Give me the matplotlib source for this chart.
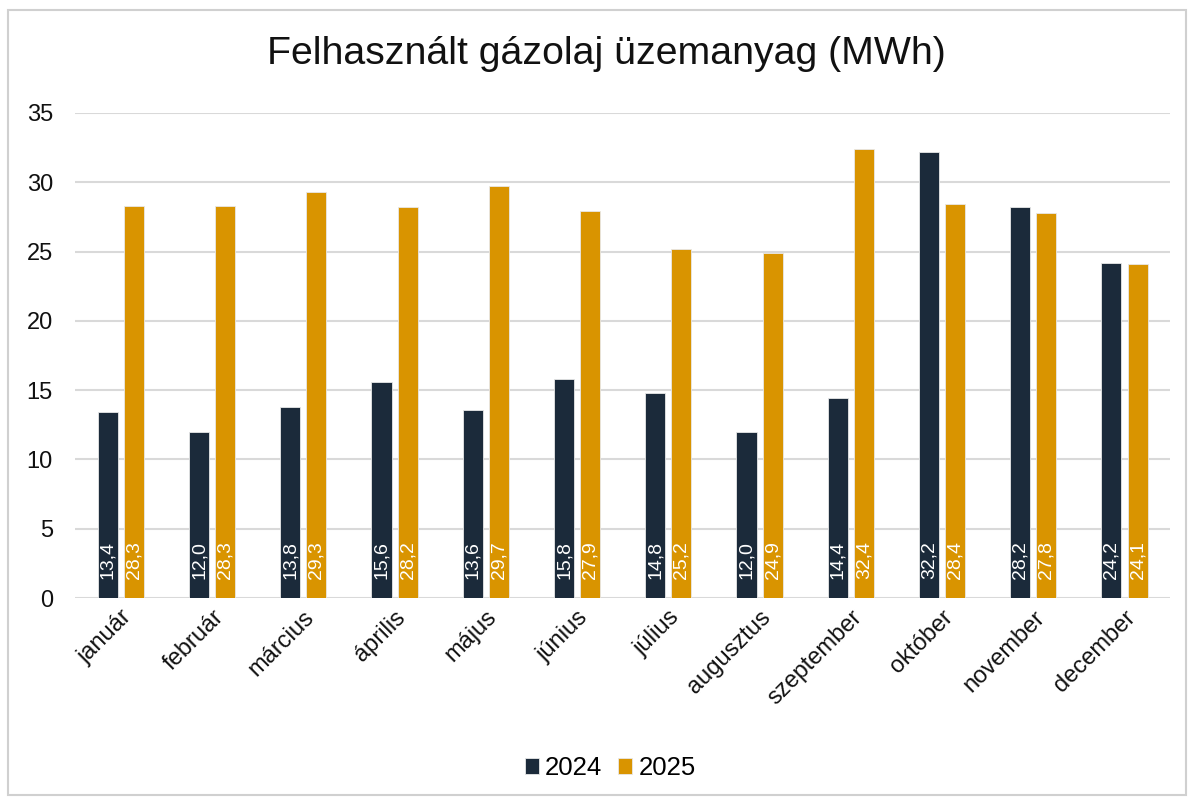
import matplotlib.pyplot as plt
import numpy as np
from matplotlib.patches import Rectangle

plt.rcParams["font.family"] = ["Liberation Sans", "DejaVu Sans"]

months = ["január", "február", "március", "április", "május", "június",
          "július", "augusztus", "szeptember", "október", "november", "december"]
years = ["2024", "2025"]
v2024 = [13.4, 12.0, 13.8, 15.6, 13.6, 15.8, 14.8, 12.0, 14.4, 32.2, 28.2, 24.2]
v2025 = [28.3, 28.3, 29.3, 28.2, 29.7, 27.9, 25.2, 24.9, 32.4, 28.4, 27.8, 24.1]
colors = ["#1b2a3a", "#d99400"]

fig = plt.figure(figsize=(11.94, 8.01), dpi=100)
fig.patches.append(Rectangle((0.007, 0.008), 0.986, 0.98, transform=fig.transFigure,
                             fill=False, edgecolor="#d0d0d0", linewidth=1.5))
ax = fig.add_axes([0.063, 0.2534, 0.917, 0.6056])

x = np.arange(len(months))
w = 0.22
off = 0.143
for vals, col, sign, lab in [(v2024, colors[0], -1, years[0]), (v2025, colors[1], 1, years[1])]:
    bars = ax.bar(x + sign * off, vals, width=w, color=col, edgecolor="#e8e8e8",
                  linewidth=0.6, label=lab, zorder=3)
    for b, v in zip(bars, vals):
        ax.text(b.get_x() + b.get_width() / 2, 1.35, f"{v:.1f}".replace(".", ","),
                rotation=90, ha="center", va="bottom", color="white",
                fontsize=14, zorder=4)

ax.set_ylim(0, 35)
ax.set_xlim(-0.5, len(months) - 0.5)
ax.set_yticks(range(0, 36, 5))
ax.yaxis.grid(True, color="#d9d9d9", linewidth=1.5, zorder=0)
ax.set_axisbelow(True)
for s in ax.spines.values():
    s.set_visible(False)
ax.tick_params(length=0, labelsize=17, colors="#111111")
ax.tick_params(axis="y", pad=16)
ax.tick_params(axis="x", pad=6)
ax.set_xticks(x)
ax.set_xticklabels(months, rotation=45, ha="right", rotation_mode="anchor")

fig.text(0.508, 0.932, "Felhasznált gázolaj üzemanyag (MWh)", ha="center", va="center",
         fontsize=28.3, color="#111111")
fig.legend(loc="center", bbox_to_anchor=(0.511, 0.041), ncol=2, frameon=False,
           fontsize=18.5, handlelength=0.55, handleheight=0.55, handletextpad=0.25,
           columnspacing=0.6)

fig.savefig("out.png", dpi=100)
